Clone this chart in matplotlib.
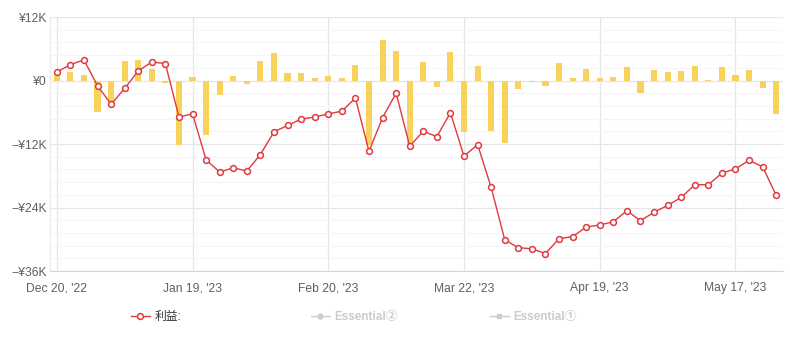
import matplotlib
matplotlib.use("Agg")
import matplotlib.pyplot as plt
from matplotlib.lines import Line2D
from matplotlib.ticker import FixedLocator, MultipleLocator, FuncFormatter

# values in thousands of yen, one per point
profit = [1.6, 3.0, 3.9, -1.0, -4.5, -1.5, 1.8, 3.5, 3.2, -6.9,
          -6.3, -15.0, -17.3, -16.5, -17.1, -14.0, -9.7, -8.5, -7.3, -6.9,
          -6.3, -5.8, -3.3, -13.4, -7.0, -2.4, -12.4, -9.6, -10.6, -6.1,
          -14.3, -12.1, -20.2, -30.1, -31.6, -31.8, -32.7, -29.9, -29.5, -27.7,
          -27.3, -26.7, -24.6, -26.5, -24.9, -23.6, -22.1, -19.7, -19.7, -17.5,
          -16.7, -15.1, -16.3, -21.7]
daily = [1.6, 1.6, 1.0, -5.9, -4.1, 3.7, 3.9, 2.2, -0.4, -12.1,
         0.7, -10.3, -2.8, 0.9, -0.6, 3.7, 5.2, 1.5, 1.5, 0.5,
         0.8, 0.5, 3.0, -12.1, 7.7, 5.6, -12.4, 3.5, -1.2, 5.4,
         -9.7, 2.8, -9.5, -11.9, -1.7, -0.2, -1.0, 3.3, 0.4, 2.2,
         0.5, 0.7, 2.6, -2.3, 2.0, 1.6, 1.8, 2.8, 0.1, 2.6,
         1.1, 2.0, -1.4, -6.3]
tick_idx = [0, 10, 20, 30, 40, 50]
tick_labels = ["Dec 20, '22", "Jan 19, '23", "Feb 20, '23", "Mar 22, '23",
               "Apr 19, '23", "May 17, '23"]
legend_labels = ["利益:", "Essential②", "Essential①"]

x = list(range(len(profit)))

fig = plt.figure(figsize=(7.9, 3.47), dpi=100)
ax = fig.add_axes([50 / 790, 1 - 271 / 347, 733 / 790, 254 / 347])

ax.bar(x, daily, width=0.45, color="#F9D25B", zorder=2)
ax.plot(x, profit, color="#E0393E", lw=1.0, marker="o", ms=4.2,
        mfc="white", mec="#E0393E", mew=1.1, zorder=3)

ax.set_xlim(-0.5, len(x) - 0.5)
ax.set_ylim(-36, 12)
ax.yaxis.set_major_locator(MultipleLocator(12))
ax.yaxis.set_minor_locator(MultipleLocator(2.4))
ax.xaxis.set_major_locator(FixedLocator(tick_idx))
ax.set_xticklabels(tick_labels)


def yen(v, pos):
    v = int(round(v))
    if v == 0:
        return "¥0"
    return ("−" if v < 0 else "") + "¥%dK" % abs(v)


ax.yaxis.set_major_formatter(FuncFormatter(yen))
ax.grid(axis="y", which="major", color="#E6E6E6", lw=0.9, zorder=0)
ax.grid(axis="y", which="minor", color="#F5F5F5", lw=0.8, zorder=0)
ax.grid(axis="x", which="major", color="#E6E6E6", lw=0.9, zorder=0)

for s in ["top", "right"]:
    ax.spines[s].set_visible(False)
ax.spines["left"].set_color("#EBEBEB")
ax.spines["bottom"].set_color("#CCD6EB")
ax.tick_params(axis="both", which="both", length=0, labelsize=8.7,
               labelcolor="#606060")
ax.tick_params(axis="x", pad=8)
ax.tick_params(axis="y", pad=2)
for lab in ax.get_xticklabels() + ax.get_yticklabels():
    lab.set_family(["Liberation Sans", "DejaVu Sans"])

handles = [
    Line2D([], [], color="#E0393E", lw=1.0, marker="o", ms=4.2,
           mfc="white", mec="#E0393E", mew=1.1),
    Line2D([], [], color="#CCCCCC", lw=1.0, marker="o", ms=3.5,
           mfc="#CCCCCC", mec="#CCCCCC"),
    Line2D([], [], color="#CCCCCC", lw=1.0, marker="s", ms=3.5,
           mfc="#CCCCCC", mec="#CCCCCC"),
]
# three separate legend items, placed like the original
leg_x = [131, 311, 490]
for i, (h, lab) in enumerate(zip(handles, legend_labels)):
    leg = fig.legend([h], [lab], loc="center left",
                     bbox_to_anchor=(leg_x[i] / 790, 1 - 317 / 347),
                     frameon=False, borderpad=0, borderaxespad=0,
                     handlelength=1.6, handletextpad=0.4,
                     prop={"family": ["Liberation Sans", "Noto Sans CJK SC"],
                           "size": 8.5})
    t = leg.get_texts()[0]
    t.set_color("#333333" if i == 0 else "#CCCCCC")
    if i > 0:
        t.set_fontweight("bold")

fig.savefig("out.png", dpi=100)
